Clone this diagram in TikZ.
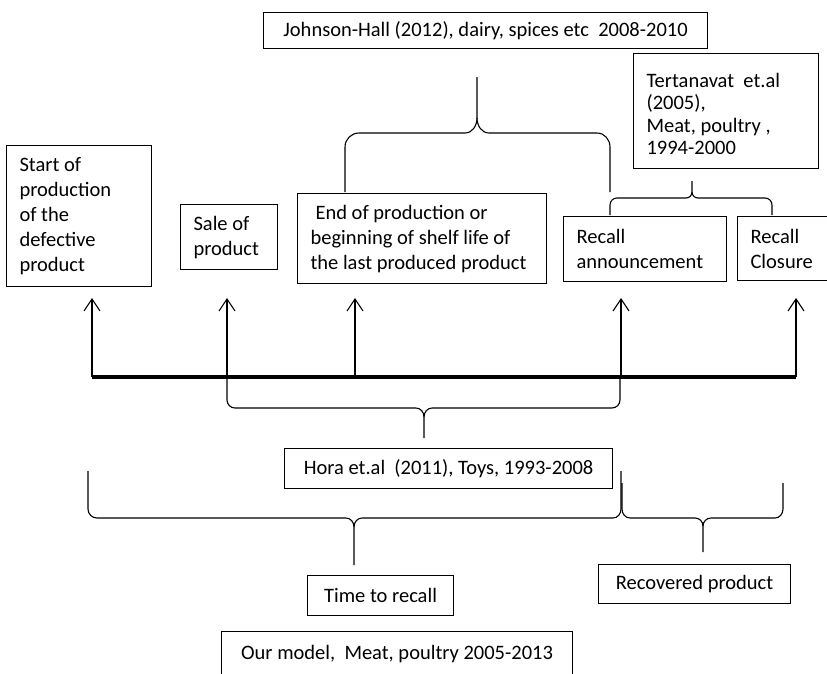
\documentclass[tikz,border=0pt]{standalone}
\usepackage{fontspec}
\setmainfont{Carlito}
\usetikzlibrary{arrows.meta}

\begin{document}
\begin{tikzpicture}[x=1pt, y=-1pt,
    box/.style={draw, line width=1.1pt, anchor=north west, inner xsep=13pt, inner ysep=0pt, font=\fontsize{20.5}{25}\selectfont},
    multi/.style={box, align=flush left},
    arrow/.style={line width=1.1pt, -{Straight Barb[length=12pt,width=16pt,line width=1.1pt]}},
    curly/.style={line width=1.1pt}]
    \useasboundingbox (0,0) rectangle (827,673);
    \clip (0,0) rectangle (827,673);

    % boxes above the time line
    \node[multi, minimum width=145, minimum height=141, text width=119](start) at (6,145)
        {Start of\\production\\of the\\defective\\product};
    \node[multi, minimum width=97, minimum height=65, text width=71](sale) at (180,204)
        {Sale of\\product};
    \node[multi, minimum width=249, minimum height=90, text width=223](endprod) at (297,193)
        {\hspace*{5pt}End of production or\\beginning of shelf life of\\the last produced product};
    \node[multi, minimum width=163, minimum height=65, text width=137](announce) at (563,216)
        {Recall\\announcement};
    \node[multi, minimum width=115, minimum height=64, text width=89](closure) at (737,216)
        {Recall\\Closure};
    \node[multi, minimum width=185, minimum height=115, text width=159, font=\fontsize{20.5}{22.5}\selectfont](tert) at (633,53)
        {\rule{0pt}{20pt}Tertanavat\ \ et.al\\(2005),\\Meat, poultry ,\\1994-2000};
    \node[box, minimum width=444, minimum height=36](johnson) at (263,12)
        {Johnson-Hall (2012), dairy, spices etc\ \ 2008-2010};

    % boxes below the time line
    \node[box, minimum width=328, minimum height=40](hora) at (284,448)
        {Hora et.al\ \ (2011), Toys, 1993-2008};
    \node[box, minimum width=146, minimum height=40](ttr) at (307,575)
        {Time to recall};
    \node[box, minimum width=192, minimum height=39](recov) at (598,564)
        {Recovered product};
    \node[box, minimum width=351, minimum height=44](model) at (221,631)
        {Our model,\ \ Meat, poultry 2005-2013};

    % time line
    \coordinate (tl) at (92,377);
    \coordinate (tr) at (796,377);
    \draw[line width=3.6pt] (tl) -- (tr);

    \foreach \x/\n in {92/1, 227/2, 355/3, 621/4, 796/5}{
        \coordinate (b\n) at (\x,377);
        \coordinate (t\n) at (\x,298);
        \draw[arrow] (b\n) -- (t\n);
    }

    % Johnson-Hall brace
    \draw[curly] (345,192) -- (345,147) to[out=90,in=180] (359,133) -- (465,133)
        to[out=0,in=-90] (477,118) -- (477,77);
    \draw[curly] (477,118) to[out=-90,in=180] (489,133) -- (597,133)
        to[out=0,in=90] (610,147) -- (610,192);

    % Tertanavat brace
    \draw[curly] (610,215) -- (610,205) to[out=90,in=180] (617,198) -- (686,198)
        to[out=0,in=-90] (692,192) -- (692,181);
    \draw[curly] (692,192) to[out=-90,in=180] (698,198) -- (765,198)
        to[out=0,in=90] (772,205) -- (772,215);

    % Hora brace
    \draw[curly] (b2) -- (227,400) to[out=-90,in=180] (235,408) -- (416,408)
        to[out=0,in=90] (424,417) -- (424,438);
    \draw[curly] (424,417) to[out=90,in=180] (432,408) -- (612,408)
        to[out=0,in=-90] (620,400) -- (620,377);

    % time to recall brace
    \draw[curly] (88,471) -- (88,509) to[out=-90,in=180] (97,518) -- (346,518)
        to[out=0,in=90] (354,527) -- (354,565);
    \draw[curly] (354,527) to[out=90,in=180] (362,518) -- (613,518)
        to[out=0,in=-90] (621,509) -- (621,471);

    % recovered product brace
    \draw[curly] (622,483) -- (622,509) to[out=-90,in=180] (630,518) -- (695,518)
        to[out=0,in=90] (703,526) -- (703,552);
    \draw[curly] (703,526) to[out=90,in=180] (711,518) -- (775,518)
        to[out=0,in=-90] (783,509) -- (783,483);
\end{tikzpicture}
\end{document}
